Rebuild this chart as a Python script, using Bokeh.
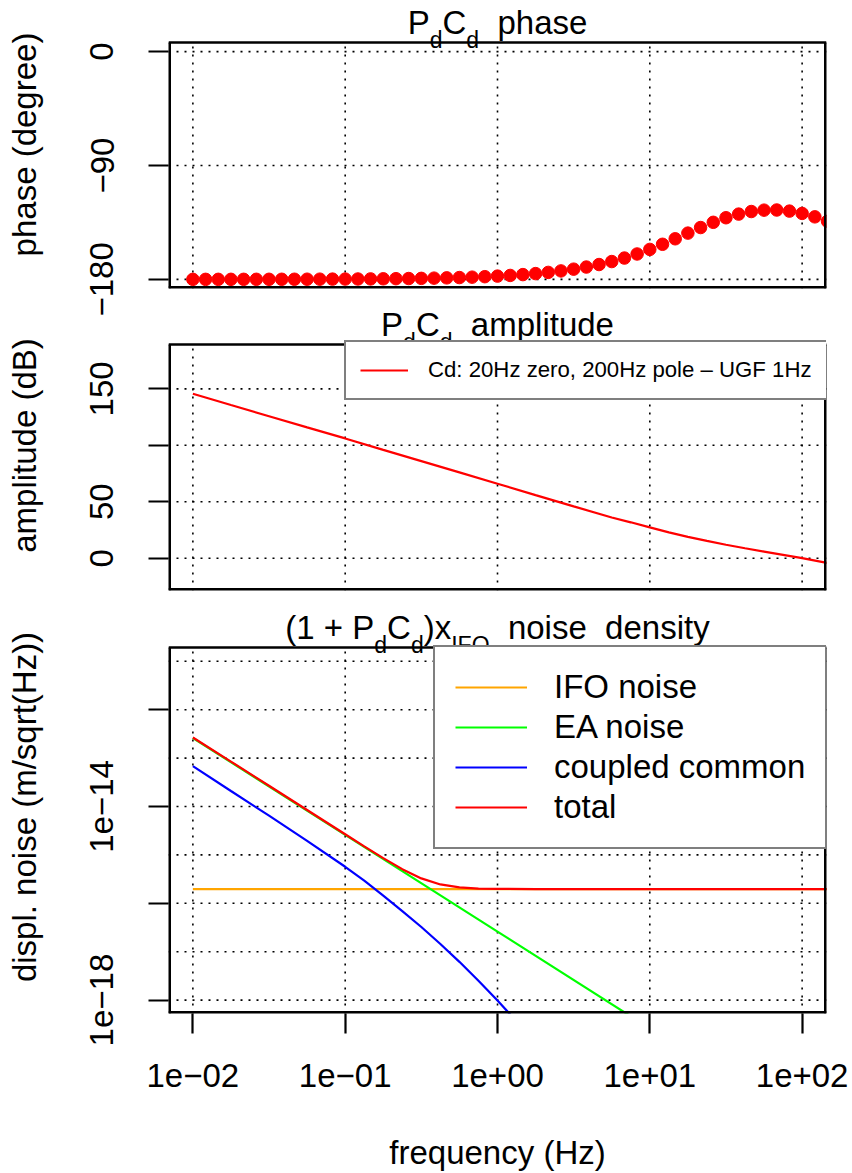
import math
from bokeh.plotting import figure
from bokeh.layouts import column
from bokeh.models import FixedTicker, Legend, LegendItem
from bokeh.core.properties import value
from bokeh.embed import file_html
from bokeh.resources import INLINE

FONT = "Liberation Sans"

# ---------------- data ----------------
phase_freq = [0.01, 0.01212, 0.01468, 0.01778, 0.02154, 0.02610, 0.03162, 0.03831, 0.04642, 0.05623, 0.06813, 0.08254,
              0.1, 0.1212, 0.1468, 0.1778, 0.2154, 0.2610, 0.3162, 0.3831, 0.4642, 0.5623, 0.6813, 0.8254,
              1.0, 1.212, 1.468, 1.778, 2.154, 2.610, 3.162, 3.831, 4.642, 5.623, 6.813, 8.254,
              10.0, 12.12, 14.68, 17.78, 21.54, 26.10, 31.62, 38.31, 46.42, 56.23, 68.13, 82.54,
              100.0, 121.2, 146.8]
phase_deg = [-179.97, -179.97, -179.96, -179.95, -179.94, -179.93, -179.92, -179.90, -179.88, -179.86, -179.82, -179.79,
             -179.74, -179.69, -179.62, -179.54, -179.45, -179.33, -179.19, -179.01, -178.80, -178.55, -178.24, -177.87,
             -177.42, -176.88, -176.22, -175.43, -174.47, -173.31, -171.92, -170.25, -168.26, -165.91, -163.14, -159.93,
             -156.30, -152.26, -147.92, -143.44, -139.02, -134.90, -131.29, -128.41, -126.37, -125.28, -125.17, -126.05,
             -127.87, -130.58, -134.04]

amp_freq = [0.01, 0.01778, 0.03162, 0.05623, 0.1, 0.1778, 0.3162, 0.5623, 1.0, 1.778, 3.162, 5.623,
            7.499, 10.0, 13.34, 17.78, 23.71, 31.62, 42.17, 56.23, 74.99, 100.0, 142.6, 177.8]
amp_db = [145.7, 135.7, 125.8, 115.9, 106.1, 96.0, 86.0, 76.0, 66.0, 55.9, 45.9, 36.1,
          31.8, 27.3, 22.9, 18.9, 15.3, 11.9, 8.8, 5.9, 3.0, 0.1, -3.9, -6.6]

ifo_freq = [0.01, 200.0]
ifo_asd = [1.96e-16, 1.96e-16]

ea_freq = [0.01, 0.1, 1.0, 10.0]
ea_asd = [2.6e-13, 2.6e-15, 2.6e-17, 2.6e-19]

common_freq = [0.01, 0.01778, 0.03162, 0.05623, 0.1, 0.1334, 0.1778, 0.2371, 0.3162, 0.4217, 0.5623, 0.7499,
               1.0, 1.3335]
common_asd = [6.8e-14, 2.09e-14, 6.46e-15, 1.95e-15, 5.68e-16, 2.93e-16, 1.445e-16, 6.92e-17, 3.24e-17, 1.445e-17,
              6.17e-18, 2.51e-18, 9.77e-19, 3.63e-19]

total_freq = [0.01, 0.01778, 0.03162, 0.05623, 0.1, 0.1334, 0.1778, 0.2371, 0.3162, 0.4217, 0.5623, 0.7499,
              1.0, 1.778, 10.0, 200.0]
total_asd = [2.66e-13, 8.48e-14, 2.68e-14, 8.45e-15, 2.67e-15, 1.50e-15, 8.57e-16, 5.07e-16, 3.27e-16, 2.45e-16,
             2.13e-16, 2.01e-16, 1.98e-16, 1.97e-16, 1.96e-16, 1.96e-16]

x_ticks = [0.01, 0.1, 1.0, 10.0, 100.0]
x_tick_labels = ["1e\u221202", "1e\u221201", "1e+00", "1e+01", "1e+02"]
phase_ticks = [-180, -90, 0]
phase_tick_labels = ["\u2212180", "\u221290", "0"]
amp_ticks = [0, 50, 100, 150]
amp_tick_labels = ["0", "50", "", "150"]
noise_ticks = [1e-18, 1e-16, 1e-14, 1e-12]
noise_tick_labels = ["1e\u221218", "", "1e\u221214", ""]
noise_grid = [1e-18, 1e-17, 1e-16, 1e-15, 1e-14, 1e-13, 1e-12, 1e-11]

legend_amp = "Cd: 20Hz zero, 200Hz pole \u2013 UGF 1Hz"
legend_noise = ["IFO noise", "EA noise", "coupled common", "total"]
colors_noise = ["#FFA500", "#00FF00", "#0000FF", "#FF0000"]

# ---------------- layout constants ----------------
W = 852
FRAME_W = 658
MBL = 168
MBR = W - MBL - FRAME_W
LX0, LX1 = -2.16, 2.16
XR = (10 ** LX0, 10 ** LX1)
FS = 33
FS_SUB = 23
GRID_DASH = "2 6"
BASE_SHIFT = 0.3465   # em offset between the drawn text anchor and the alphabetic baseline

CW = {' ': 0.278, '(': 0.333, ')': 0.333, '+': 0.584, '1': 0.556, 'P': 0.667, 'C': 0.722, 'd': 0.556,
      'x': 0.5, 'I': 0.278, 'F': 0.611, 'O': 0.778, 'n': 0.556, 'o': 0.556, 'i': 0.222, 's': 0.5,
      'e': 0.556, 't': 0.278, 'y': 0.5, 'p': 0.556, 'h': 0.556, 'a': 0.556, 'm': 0.833, 'l': 0.222,
      'u': 0.556}


def tw(s, size):
    return sum(CW.get(c, 0.556) for c in s) * size


class Panel:
    def __init__(self, height, ext_px, box_h, mbb, box_range, y_type="linear", overlap=0):
        self.y_type = y_type
        b0, b1 = box_range
        if y_type == "log":
            lb0, lb1 = math.log10(b0), math.log10(b1)
        else:
            lb0, lb1 = b0, b1
        self.lb0, self.lb1 = lb0, lb1
        self.scale = (lb1 - lb0) / box_h
        top = lb1 + ext_px * self.scale
        y_end = 10 ** top if y_type == "log" else top
        self.b0, self.b1 = b0, b1
        kw = {}
        if overlap:
            kw["margin"] = (-overlap, 0, 0, 0)
        p = figure(width=W, height=height, x_axis_type="log", y_axis_type=y_type,
                   x_range=XR, y_range=(b0, y_end), title=None,
                   output_backend="svg", toolbar_location=None,
                   min_border_left=MBL, min_border_right=MBR, min_border_top=0, min_border_bottom=mbb,
                   **kw)
        p.outline_line_color = None
        p.background_fill_color = "white"
        p.border_fill_color = "white"
        if overlap:
            p.background_fill_alpha = 0.0
            p.border_fill_alpha = 0.0
        p.xgrid.visible = False
        p.ygrid.visible = False
        for ax in p.xaxis + p.yaxis:
            ax.axis_line_color = None
            ax.major_tick_out = 20
            ax.major_tick_in = 0
            ax.major_tick_line_width = 2.2
            ax.major_tick_line_color = "black"
            ax.minor_tick_line_color = None
            ax.major_label_text_font = FONT
            ax.major_label_text_font_size = f"{FS}px"
            ax.major_label_text_color = "black"
            ax.axis_label_text_font = FONT
            ax.axis_label_text_font_size = f"{FS}px"
            ax.axis_label_text_font_style = "normal"
            ax.axis_label_text_color = "black"
        for ax in p.yaxis:
            ax.major_label_orientation = "vertical"
            ax.major_label_standoff = 35
            ax.axis_label_standoff = 45
            ax.bounds = (b0, b1)
        for ax in p.xaxis:
            ax.major_label_standoff = 30
            ax.axis_label_standoff = 44
        self.p = p

    def ydata(self, px_above_top):
        v = self.lb1 + px_above_top * self.scale
        return 10 ** v if self.y_type == "log" else v

    def xdata(self, px):
        return 10 ** (LX0 + px / FRAME_W * (LX1 - LX0))

    def grid(self, yvals):
        p = self.p
        p.segment(x0=x_ticks, x1=x_ticks, y0=[self.b0] * len(x_ticks), y1=[self.b1] * len(x_ticks),
                  line_color="black", line_dash=GRID_DASH, line_width=1.6)
        p.segment(x0=[XR[0]] * len(yvals), x1=[XR[1]] * len(yvals), y0=yvals, y1=yvals,
                  line_color="black", line_dash=GRID_DASH, line_width=1.6)

    def box(self):
        p = self.p
        p.segment(x0=[XR[0]], x1=[XR[1]], y0=[self.b1], y1=[self.b1], line_color="black", line_width=2.5)
        p.segment(x0=[XR[0], XR[1], XR[0]], x1=[XR[0], XR[1], XR[1]],
                  y0=[self.b0, self.b0, self.b0], y1=[self.b1, self.b1, self.b0],
                  line_color="black", line_width=5)

    def title(self, pieces):
        total = 0
        for t, k in pieces:
            total += 2 * 0.278 * FS if k == "gap" else tw(t, FS if k == "main" else FS_SUB)
        x = FRAME_W / 2 - total / 2
        for t, k in pieces:
            if k == "gap":
                x += 2 * 0.278 * FS
                continue
            size = FS if k == "main" else FS_SUB
            base = 8.4 if k == "main" else 8.4 - 13.4
            yy = self.ydata(base + BASE_SHIFT * size)
            self.p.text(x=[self.xdata(x)], y=[yy], text=[t], text_font=value(FONT),
                        text_font_size=value(f"{size}px"), text_color="black",
                        text_align="left", text_baseline="alphabetic")
            x += tw(t, size)


# ---------------- panel 1: phase (page y 0-316, box 42-288) ----------------
P1 = Panel(316, 42, 246, 28, (-187.2, 7.2))
p1 = P1.p
p1.xaxis.visible = False
p1.yaxis.ticker = FixedTicker(ticks=phase_ticks)
p1.yaxis.major_label_overrides = dict(zip(phase_ticks, phase_tick_labels))
p1.yaxis.axis_label = "phase (degree)"
P1.grid(phase_ticks)
p1.scatter(phase_freq, phase_deg, size=12.5, color="#FF0000", line_color="#FF0000")
P1.box()
P1.title([("P", "main"), ("d", "sub"), ("C", "main"), ("d", "sub"), ("", "gap"), ("phase", "main")])

# ---------------- panel 2: amplitude (page y 300-612, box 344-590) ----------------
P2 = Panel(312, 44, 246, 22, (-28.6, 189.3), overlap=16)
p2 = P2.p
p2.xaxis.visible = False
p2.yaxis.ticker = FixedTicker(ticks=amp_ticks)
p2.yaxis.major_label_overrides = dict(zip(amp_ticks, amp_tick_labels))
p2.yaxis.axis_label = "amplitude (dB)"
P2.grid(amp_ticks)
r_amp = p2.line(amp_freq, amp_db, line_color="#FF0000", line_width=2.2)
P2.box()
P2.title([("P", "main"), ("d", "sub"), ("C", "main"), ("d", "sub"), ("", "gap"), ("amplitude", "main")])
leg2 = Legend(items=[LegendItem(label=legend_amp, renderers=[r_amp])], location=(176, 190),
              margin=0, padding=14, spacing=0, glyph_width=48, glyph_height=28, label_height=28,
              label_standoff=20, border_line_color="black", border_line_width=2,
              background_fill_color="white", background_fill_alpha=1.0,
              label_text_font=FONT, label_text_font_size="22.2px", label_text_color="black")
p2.add_layout(leg2)

# ---------------- panel 3: noise (page y 600-1173, box 647-1013) ----------------
P3 = Panel(573, 47, 366, 160, (10 ** -18.277, 10 ** -10.715), y_type="log", overlap=12)
p3 = P3.p
p3.xaxis.ticker = FixedTicker(ticks=x_ticks)
p3.xaxis.major_label_overrides = dict(zip(x_ticks, x_tick_labels))
p3.xaxis.axis_label = "frequency (Hz)"
p3.yaxis.ticker = FixedTicker(ticks=noise_ticks)
p3.yaxis.major_label_overrides = dict(zip(noise_ticks, noise_tick_labels))
p3.yaxis.axis_label = "displ. noise (m/sqrt(Hz))"
P3.grid(noise_grid)
rs = []
for fx, fy, c in zip([ifo_freq, ea_freq, common_freq, total_freq],
                     [ifo_asd, ea_asd, common_asd, total_asd], colors_noise):
    rs.append(p3.line(fx, fy, line_color=c, line_width=2.2))
P3.box()
P3.title([("(1 + P", "main"), ("d", "sub"), ("C", "main"), ("d", "sub"), (")x", "main"),
          ("IFO", "sub"), ("", "gap"), ("noise", "main"), ("", "gap"), ("density", "main")])
leg3 = Legend(items=[LegendItem(label=l, renderers=[r]) for l, r in zip(legend_noise, rs)],
              location=(265, 164), margin=0, padding=20, spacing=0, glyph_width=72, glyph_height=40,
              label_height=40, label_standoff=27, border_line_color="black", border_line_width=2,
              background_fill_color="white", background_fill_alpha=1.0,
              label_text_font=FONT, label_text_font_size=f"{FS}px", label_text_color="black")
p3.add_layout(leg3)

layout = column(p1, p2, p3, spacing=0)
open("out.html", "w").write(file_html(layout, INLINE))
